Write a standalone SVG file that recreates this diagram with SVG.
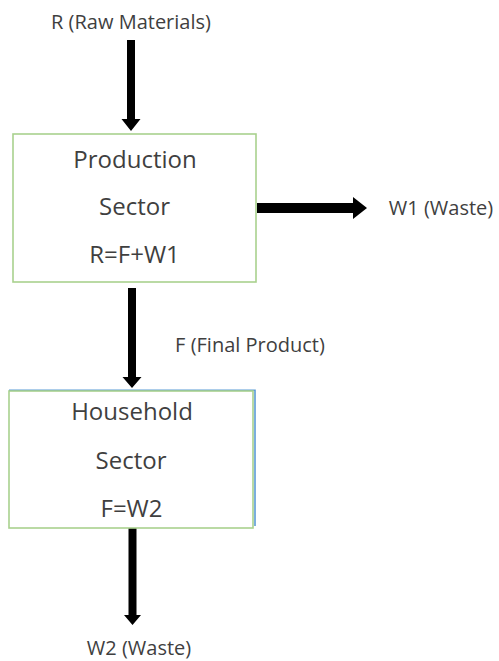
<svg xmlns="http://www.w3.org/2000/svg" width="499" height="661" viewBox="0 0 499 661">
<style>
.box{fill:#ffffff;stroke:#a9d18e;stroke-width:1.6}
.t{font-family:"Open Sans","Noto Sans",sans-serif;fill:#3f3f3f;text-anchor:middle}
.big{font-size:24px}
.lab{font-size:20px}
.arr{fill:#000000}
</style>
<rect width="499" height="661" fill="#ffffff"/>
<g id="connectors">
<path class="arr" d="M127,40 H135 V119 H140.5 L131,131 L121.5,119 H127 Z"/>
<path class="arr" d="M128,288 H136 V377 H141.5 L132,388 L122.5,377 H128 Z"/>
<path class="arr" d="M257,203 H353 V197 L367,208 L353,219 V213 H257 Z"/>
<path class="arr" d="M128.5,528 H136.5 V615 H141 L132.5,625 L124,615 H128.5 Z"/>
</g>
<g id="label-raw">
<text class="t lab" x="131" y="29">R (Raw Materials)</text>
</g>
<g id="production">
<rect class="box" x="13" y="134" width="243" height="148"/>
<text class="t big" x="135" y="168">Production</text>
<text class="t big" x="134.5" y="215">Sector</text>
<text class="t big" x="134.5" y="263">R=F+W1</text>
</g>
<g id="label-w1">
<text class="t lab" x="441" y="215">W1 (Waste)</text>
</g>
<g id="label-final">
<text class="t lab" x="250" y="352">F (Final Product)</text>
</g>
<g id="household">
<path d="M9,390.2 H255 V526" fill="none" stroke="#5b9bd5" stroke-width="1.6"/>
<rect class="box" x="9" y="391" width="244" height="137"/>
<text class="t big" x="132" y="420">Household</text>
<text class="t big" x="131" y="469">Sector</text>
<text class="t big" x="131.5" y="517">F=W2</text>
</g>
<g id="label-w2">
<text class="t lab" x="139" y="655">W2 (Waste)</text>
</g>
</svg>
